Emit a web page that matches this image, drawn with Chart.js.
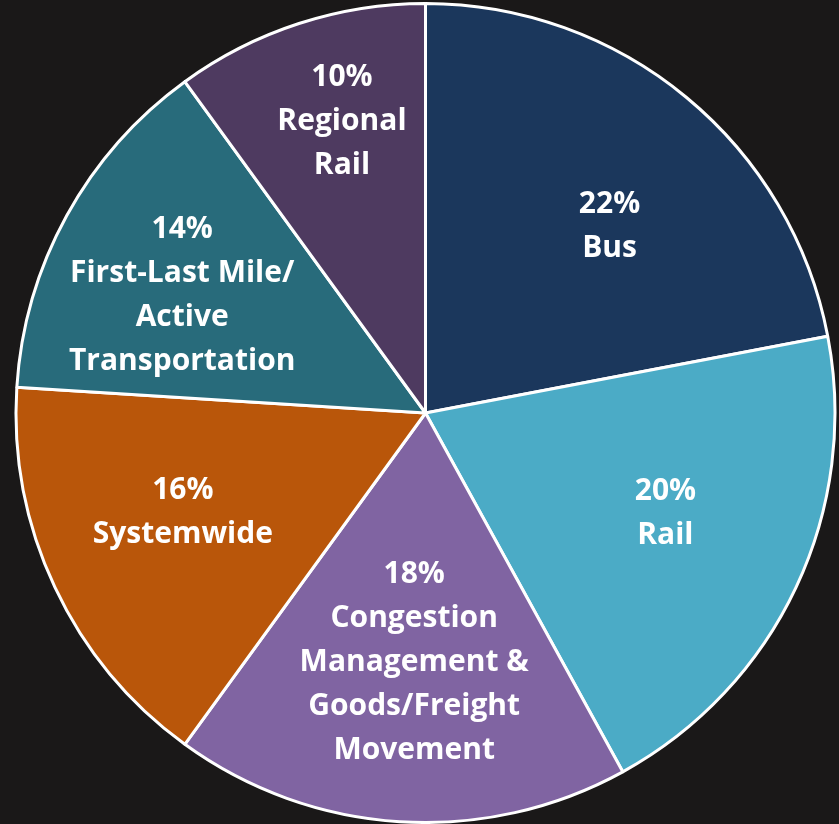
<!DOCTYPE html>
<html>
<head>
<meta charset="utf-8">
<script src="https://cdn.jsdelivr.net/npm/chart.js@4"></script>
<style>
  html, body { margin: 0; padding: 0; background: #1a1818; }
  #wrap { width: 839px; height: 824px; }
</style>
</head>
<body>
<div id="wrap"><canvas id="grafico"></canvas></div>
<script>
// dados do gráfico
var categorias = ["Bus", "Rail", "Congestion Management & Goods/Freight Movement", "Systemwide", "First-Last Mile/ Active Transportation", "Regional Rail"];
var valores = [22, 20, 18, 16, 14, 10];
var rotulos = [
  ["22%", "Bus"],
  ["20%", "Rail"],
  ["18%", "Congestion", "Management &", "Goods/Freight", "Movement"],
  ["16%", "Systemwide"],
  ["14%", "First-Last Mile/", "Active", "Transportation"],
  ["10%", "Regional", "Rail"]
];
var cores = ['#1b375c', '#4babc6', '#8064a2', '#b9560a', '#286b7b', '#4e3a60'];

// ajuste fino de onde cada rótulo fica (fração do raio, desvio em graus)
var rotuloRaio = [0.64, 0.635, 0.61, 0.64, 0.66, 0.74];
var rotuloDesvio = [5, -2.5, -1, 3, -3, 2];

// escreve os rótulos dentro das fatias
var pluginRotulos = {
  id: 'rotulos',
  afterDatasetsDraw: function(chart){
    var ctx = chart.ctx;
    var meta = chart.getDatasetMeta(0);
    ctx.save();
    ctx.fillStyle = '#ffffff';
    ctx.font = 'bold 30px "Open Sans", sans-serif';
    ctx.textAlign = 'center';
    ctx.textBaseline = 'middle';
    meta.data.forEach(function(arc, i){
      var p = arc.getProps(['x', 'y', 'startAngle', 'endAngle', 'outerRadius'], true);
      var meio = (p.startAngle + p.endAngle) / 2 + rotuloDesvio[i] * Math.PI / 180;
      var r = p.outerRadius * rotuloRaio[i];
      var cx = p.x + Math.cos(meio) * r;
      var cy = p.y + Math.sin(meio) * r;
      var linhas = rotulos[i];
      var alt = 44;
      var y0 = cy - (linhas.length - 1) * alt / 2;
      linhas.forEach(function(l, j){
        ctx.fillText(l, cx, y0 + j * alt);
      });
    });
    ctx.restore();
  }
};

var ctx = document.getElementById('grafico').getContext('2d');
var chart = new Chart(ctx, {
  type: 'pie',
  data: {
    labels: categorias,
    datasets: [{
      data: valores,
      backgroundColor: cores,
      borderColor: '#ffffff',
      borderWidth: 3
    }]
  },
  options: {
    responsive: true,
    maintainAspectRatio: false,
    animation: false,
    layout: { padding: { left: 12, right: 0, top: 2, bottom: 0 } },
    plugins: {
      legend: { display: false },
      tooltip: { enabled: false }
    }
  },
  plugins: [pluginRotulos]
});
</script>
</body>
</html>
